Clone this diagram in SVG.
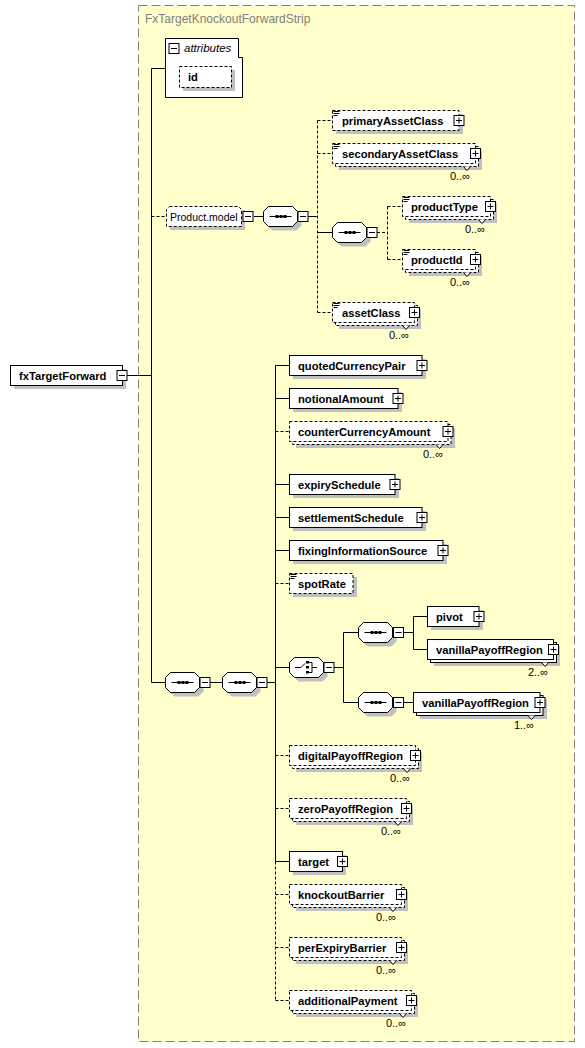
<svg xmlns="http://www.w3.org/2000/svg" xmlns:xlink="http://www.w3.org/1999/xlink" width="585" height="1048" viewBox="0 0 585 1048">
<style>
.bg{fill:#FFFFCC;stroke:#808080;stroke-width:1;stroke-dasharray:9,4}
.el{fill:#fff;stroke:#000;stroke-width:1}
.opt{stroke-dasharray:3,2}
.sh{fill:#C0C0C0;stroke:none}
.lbl{font-family:"Liberation Sans",Arial,sans-serif;font-weight:bold;font-size:11.2px;fill:#000}
.reg{font-family:"Liberation Sans",Arial,sans-serif;font-size:10.5px;fill:#000}
.mult{font-family:"Liberation Sans",Arial,sans-serif;font-size:11px;fill:#000;text-anchor:end}
.title{font-family:"Liberation Sans",Arial,sans-serif;font-size:12px;fill:#808080}
.ital{font-family:"Liberation Sans",Arial,sans-serif;font-size:11.5px;font-style:italic;fill:#000}
.c{stroke:#000;stroke-width:1;fill:none}
.d{stroke-dasharray:3,2}
.n{fill:#fff;stroke:#000;stroke-width:1}
</style>
<defs>
<g id="plus"><rect x="-5" y="-5" width="10" height="10" fill="#fff" stroke="#000"/><path d="M-3,0H3M0,-3V3" stroke="#000"/></g>
<g id="minus"><rect x="-5" y="-5" width="10" height="10" fill="#fff" stroke="#000"/><path d="M-3,0H3" stroke="#000"/></g>
<g id="simp"><rect x="0" y="0" width="7" height="6" fill="#fff"/><path d="M0.5,0.5H6.5M0.5,2.5H6.5M0.5,4.5H4.5" stroke="#000"/></g>
<path id="notch" d="M-12,0L-8.5,4L-5,0" fill="#fff" stroke="#000"/>
<path id="octsh" d="M5,0H29L34,5V15L29,20H5L0,15V5Z" fill="#C0C0C0"/>
<path id="oct" d="M5,0H29L34,5V15L29,20H5L0,15V5Z" fill="#fff" stroke="#000"/>
<g id="seq"><use xlink:href="#octsh" x="4" y="4"/><use xlink:href="#oct"/><path d="M6,10H28" stroke="#000"/><rect x="12" y="8.5" width="3" height="3" fill="#000"/><rect x="16" y="8.5" width="3" height="3" fill="#000"/><rect x="20" y="8.5" width="3" height="3" fill="#000"/></g>
</defs>

<rect class="bg" x="138.5" y="5.5" width="436" height="1036"/>
<text class="title" x="145" y="23">FxTargetKnockoutForwardStrip</text>

<g id="connectors">
<path class="c" d="M127,375.5H151.5M151.5,68.5V682.5M151.5,68.5H165M151.5,682.5H165"/>
<path class="c d" d="M151.5,216.5H166"/>
<path class="c" d="M254,216.5H263M308,216.5H317.5M317.5,232.5H332"/>
<path class="c d" d="M317.5,120.5V312.5M317.5,120.5H332M317.5,153.5H332M317.5,312.5H332"/>
<path class="c d" d="M377,232.5H387.5M387.5,206.5V259.5M387.5,206.5H402M387.5,259.5H402"/>
<path class="c" d="M210,682.5H222M267,682.5H275.5"/>
<path class="c" d="M275.5,365.5V861.5M275.5,365.5H289M275.5,398.5H289M275.5,484.5H289M275.5,517.5H289M275.5,550.5H289M275.5,667.5H289M275.5,861.5H289"/>
<path class="c d" d="M275.5,861.5V1000.5M275.5,431.5H289M275.5,583.5H289M275.5,755.5H289M275.5,808.5H289M275.5,894.5H289M275.5,947.5H289M275.5,1000.5H289"/>
<path class="c" d="M334,667.5H343.5M343.5,632.5V702.5M343.5,632.5H358M343.5,702.5H358"/>
<path class="c" d="M404,632.5H413.5M413.5,616.5V649.5M413.5,616.5H427M413.5,649.5H427M404,702.5H413"/>
</g>

<g id="fxTargetForward">
<rect class="sh" x="14" y="369" width="112" height="20"/>
<rect class="el" x="10.5" y="365.5" width="112" height="20"/>
<text class="lbl" x="19" y="379.5">fxTargetForward</text>
<use xlink:href="#minus" x="122" y="375.5"/>
</g>

<g id="attributes">
<path d="M165.5,38.5H238.5V57.5H242.5V97.5H165.5Z" fill="#fff" stroke="#000"/>
<use xlink:href="#minus" x="174" y="48.5"/>
<text class="ital" x="184" y="52">attributes</text>
<rect class="sh" x="183" y="70" width="52" height="21"/>
<rect class="el opt" x="179.5" y="66.5" width="52" height="21"/>
<text class="lbl" x="188" y="81">id</text>
</g>

<g id="Product.model">
<path d="M173,210H245V230H170V213Z" fill="#C0C0C0"/>
<path d="M169.5,206.5H238.5L241.5,209.5V226.5H166.5V209.5Z" fill="#fff" stroke="#000" stroke-dasharray="3,2"/>
<text class="reg" x="170" y="220.5">Product.model</text>
<use xlink:href="#minus" x="248" y="216.5"/>
</g>

<g id="seq-pm">
<use xlink:href="#seq" x="263.5" y="206.5"/>
<use xlink:href="#minus" x="303" y="216.5"/>
</g>

<g id="seq-pm-inner">
<use xlink:href="#seq" x="332.5" y="222.5"/>
<use xlink:href="#minus" x="372" y="232.5"/>
</g>

<g id="primaryAssetClass">
<rect class="sh" x="336" y="114" width="127" height="20"/>
<rect class="el opt" x="332.5" y="110.5" width="126.5" height="20"/>
<use xlink:href="#simp" x="333" y="111"/>
<text class="lbl" x="342" y="124.5">primaryAssetClass</text>
<use xlink:href="#plus" x="459" y="120.5"/>
</g>

<g id="secondaryAssetClass">
<rect class="sh" x="339" y="150" width="143" height="20"/>
<rect class="el opt" x="335.5" y="146.5" width="143" height="20"/>
<rect class="el opt" x="332.5" y="143.5" width="143" height="20"/>
<use xlink:href="#simp" x="333" y="144"/>
<text class="lbl" x="342" y="157.5">secondaryAssetClass</text>
<use xlink:href="#plus" x="475.5" y="153.5"/>
<use xlink:href="#notch" x="475.5" y="166.5"/>
<text class="mult" x="470" y="180">0..∞</text>
</g>

<g id="productType">
<rect class="sh" x="409" y="203" width="88" height="20"/>
<rect class="el opt" x="405.5" y="199.5" width="88" height="20"/>
<rect class="el opt" x="402.5" y="196.5" width="88" height="20"/>
<use xlink:href="#simp" x="403" y="197"/>
<text class="lbl" x="411" y="210.5">productType</text>
<use xlink:href="#plus" x="490.5" y="206.5"/>
<use xlink:href="#notch" x="490.5" y="219.5"/>
<text class="mult" x="485" y="233">0..∞</text>
</g>

<g id="productId">
<rect class="sh" x="409" y="256" width="73" height="20"/>
<rect class="el opt" x="405.5" y="252.5" width="73" height="20"/>
<rect class="el opt" x="402.5" y="249.5" width="73" height="20"/>
<use xlink:href="#simp" x="403" y="250"/>
<text class="lbl" x="411" y="263.5">productId</text>
<use xlink:href="#plus" x="475.5" y="259.5"/>
<use xlink:href="#notch" x="475.5" y="272.5"/>
<text class="mult" x="470" y="286">0..∞</text>
</g>

<g id="assetClass">
<rect class="sh" x="339" y="309" width="82" height="20"/>
<rect class="el opt" x="335.5" y="305.5" width="82" height="20"/>
<rect class="el opt" x="332.5" y="302.5" width="82" height="20"/>
<use xlink:href="#simp" x="333" y="303"/>
<text class="lbl" x="342" y="316.5">assetClass</text>
<use xlink:href="#plus" x="414.5" y="312.5"/>
<use xlink:href="#notch" x="414.5" y="325.5"/>
<text class="mult" x="409" y="339">0..∞</text>
</g>

<g id="seq-main-1">
<use xlink:href="#seq" x="165.5" y="672.5"/>
<use xlink:href="#minus" x="205" y="682.5"/>
</g>
<g id="seq-main-2">
<use xlink:href="#seq" x="222.5" y="672.5"/>
<use xlink:href="#minus" x="262" y="682.5"/>
</g>

<g id="quotedCurrencyPair">
<rect class="sh" x="293" y="359" width="133" height="20"/>
<rect class="el" x="289.5" y="355.5" width="132.5" height="20"/>
<text class="lbl" x="298" y="369.5">quotedCurrencyPair</text>
<use xlink:href="#plus" x="422" y="365.5"/>
</g>

<g id="notionalAmount">
<rect class="sh" x="293" y="392" width="109" height="20"/>
<rect class="el" x="289.5" y="388.5" width="108.5" height="20"/>
<text class="lbl" x="298" y="402.5">notionalAmount</text>
<use xlink:href="#plus" x="398" y="398.5"/>
</g>

<g id="counterCurrencyAmount">
<rect class="sh" x="296" y="428" width="159" height="20"/>
<rect class="el opt" x="292.5" y="424.5" width="158.5" height="20"/>
<rect class="el opt" x="289.5" y="421.5" width="158.5" height="20"/>
<text class="lbl" x="298" y="435.5">counterCurrencyAmount</text>
<use xlink:href="#plus" x="448" y="431.5"/>
<use xlink:href="#notch" x="448" y="444.5"/>
<text class="mult" x="443" y="458">0..∞</text>
</g>

<g id="expirySchedule">
<rect class="sh" x="293" y="478" width="106" height="20"/>
<rect class="el" x="289.5" y="474.5" width="105.5" height="20"/>
<text class="lbl" x="298" y="488.5">expirySchedule</text>
<use xlink:href="#plus" x="395" y="484.5"/>
</g>

<g id="settlementSchedule">
<rect class="sh" x="293" y="511" width="133" height="20"/>
<rect class="el" x="289.5" y="507.5" width="132.5" height="20"/>
<text class="lbl" x="298" y="521.5">settlementSchedule</text>
<use xlink:href="#plus" x="422" y="517.5"/>
</g>

<g id="fixingInformationSource">
<rect class="sh" x="293" y="544" width="154" height="20"/>
<rect class="el" x="289.5" y="540.5" width="153.5" height="20"/>
<text class="lbl" x="298" y="554.5">fixingInformationSource</text>
<use xlink:href="#plus" x="443" y="550.5"/>
</g>

<g id="spotRate">
<rect class="sh" x="293" y="577" width="64" height="20"/>
<rect class="el opt" x="289.5" y="573.5" width="63.5" height="20"/>
<use xlink:href="#simp" x="290" y="574"/>
<text class="lbl" x="298" y="587.5">spotRate</text>
</g>

<g id="choice">
<use xlink:href="#octsh" x="293.5" y="661.5"/>
<use xlink:href="#oct" x="289.5" y="657.5"/>
<path d="M295,667.5H301L305,663.5M309,662.5H312V672.5H309M312,667.5H317" stroke="#000" fill="none"/>
<rect x="306" y="661" width="3" height="2.5" fill="#000"/>
<rect x="306" y="666" width="3" height="2.5" fill="#000"/>
<rect x="306" y="671" width="3" height="2.5" fill="#000"/>
<use xlink:href="#minus" x="329" y="667.5"/>
</g>

<g id="seq-choice-1">
<use xlink:href="#seq" x="358.5" y="622.5"/>
<use xlink:href="#minus" x="398.5" y="632.5"/>
</g>
<g id="seq-choice-2">
<use xlink:href="#seq" x="358.5" y="692.5"/>
<use xlink:href="#minus" x="398.5" y="702.5"/>
</g>

<g id="pivot">
<rect class="sh" x="431" y="610" width="52" height="20"/>
<rect class="el" x="427.5" y="606.5" width="51.5" height="20"/>
<text class="lbl" x="436" y="620.5">pivot</text>
<use xlink:href="#plus" x="479" y="616.5"/>
</g>

<g id="vanillaPayoffRegion-1">
<rect class="sh" x="434" y="646" width="126" height="20"/>
<rect class="el" x="430.5" y="642.5" width="126" height="20"/>
<rect class="el" x="427.5" y="639.5" width="126" height="20"/>
<text class="lbl" x="436" y="653.5">vanillaPayoffRegion</text>
<use xlink:href="#plus" x="553.5" y="649.5"/>
<use xlink:href="#notch" x="553.5" y="662.5"/>
<text class="mult" x="548" y="676">2..∞</text>
</g>

<g id="vanillaPayoffRegion-2">
<rect class="sh" x="420" y="699" width="127" height="20"/>
<rect class="el" x="416.5" y="695.5" width="126.5" height="20"/>
<rect class="el" x="413.5" y="692.5" width="126.5" height="20"/>
<text class="lbl" x="422" y="706.5">vanillaPayoffRegion</text>
<use xlink:href="#plus" x="540" y="702.5"/>
<use xlink:href="#notch" x="540" y="715.5"/>
<text class="mult" x="534" y="729">1..∞</text>
</g>

<g id="digitalPayoffRegion">
<rect class="sh" x="296" y="752" width="126" height="20"/>
<rect class="el opt" x="292.5" y="748.5" width="126" height="20"/>
<rect class="el opt" x="289.5" y="745.5" width="126" height="20"/>
<text class="lbl" x="298" y="759.5">digitalPayoffRegion</text>
<use xlink:href="#plus" x="415.5" y="755.5"/>
<use xlink:href="#notch" x="415.5" y="768.5"/>
<text class="mult" x="410" y="782">0..∞</text>
</g>

<g id="zeroPayoffRegion">
<rect class="sh" x="296" y="805" width="117" height="20"/>
<rect class="el opt" x="292.5" y="801.5" width="117" height="20"/>
<rect class="el opt" x="289.5" y="798.5" width="117" height="20"/>
<text class="lbl" x="298" y="812.5">zeroPayoffRegion</text>
<use xlink:href="#plus" x="406.5" y="808.5"/>
<use xlink:href="#notch" x="406.5" y="821.5"/>
<text class="mult" x="401" y="835">0..∞</text>
</g>

<g id="target">
<rect class="sh" x="293" y="855" width="53" height="20"/>
<rect class="el" x="289.5" y="851.5" width="53" height="20"/>
<text class="lbl" x="298" y="865.5">target</text>
<use xlink:href="#plus" x="342.5" y="861.5"/>
</g>

<g id="knockoutBarrier">
<rect class="sh" x="296" y="891" width="112" height="20"/>
<rect class="el opt" x="292.5" y="887.5" width="112" height="20"/>
<rect class="el opt" x="289.5" y="884.5" width="112" height="20"/>
<text class="lbl" x="298" y="898.5">knockoutBarrier</text>
<use xlink:href="#plus" x="401.5" y="894.5"/>
<use xlink:href="#notch" x="401.5" y="907.5"/>
<text class="mult" x="396" y="921">0..∞</text>
</g>

<g id="perExpiryBarrier">
<rect class="sh" x="296" y="944" width="112" height="20"/>
<rect class="el opt" x="292.5" y="940.5" width="112" height="20"/>
<rect class="el opt" x="289.5" y="937.5" width="112" height="20"/>
<text class="lbl" x="298" y="951.5">perExpiryBarrier</text>
<use xlink:href="#plus" x="401.5" y="947.5"/>
<use xlink:href="#notch" x="401.5" y="960.5"/>
<text class="mult" x="396" y="974">0..∞</text>
</g>

<g id="additionalPayment">
<rect class="sh" x="296" y="997" width="122" height="20"/>
<rect class="el opt" x="292.5" y="993.5" width="122" height="20"/>
<rect class="el opt" x="289.5" y="990.5" width="122" height="20"/>
<text class="lbl" x="298" y="1004.5">additionalPayment</text>
<use xlink:href="#plus" x="411.5" y="1000.5"/>
<use xlink:href="#notch" x="411.5" y="1013.5"/>
<text class="mult" x="406" y="1027">0..∞</text>
</g>
</svg>
